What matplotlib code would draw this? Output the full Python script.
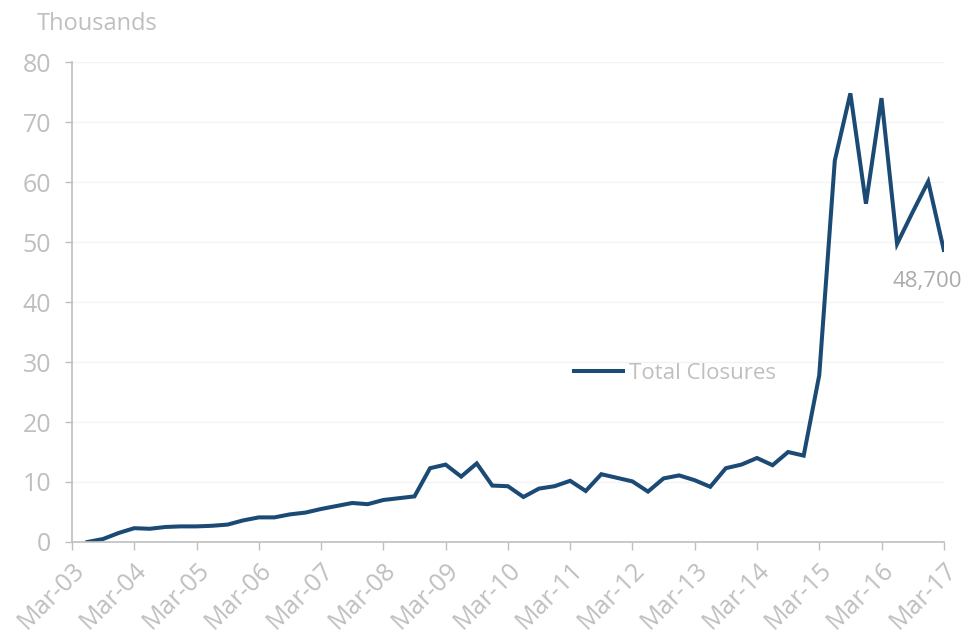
import numpy as np
import matplotlib
matplotlib.use("Agg")
from matplotlib import pyplot as plt

# quarterly closures (thousands), Jun-03 .. Mar-17
closures = [
    0.0, 0.5, 1.5, 2.3, 2.2, 2.5, 2.6, 2.6, 2.7, 2.9, 3.6, 4.1, 4.1, 4.6, 4.9, 5.5,
    6.0, 6.5, 6.3, 7.0, 7.3, 7.6, 12.3, 12.9, 10.9, 13.1, 9.4, 9.3, 7.5, 8.9,
    9.3, 10.2, 8.5, 11.3, 10.7, 10.1, 8.4, 10.6, 11.1, 10.3, 9.2, 12.3, 12.9, 14.0,
    12.8, 15.0, 14.4, 27.8, 63.6, 74.8, 56.4, 74.0, 49.7, 55.0, 60.1, 48.7,
]
year_labels = ['Mar-03', 'Mar-04', 'Mar-05', 'Mar-06', 'Mar-07', 'Mar-08', 'Mar-09', 'Mar-10',
               'Mar-11', 'Mar-12', 'Mar-13', 'Mar-14', 'Mar-15', 'Mar-16', 'Mar-17']
series_name = 'Total Closures'

line_color = '#1B4A75'
text_color = '#BFBFBF'
axis_color = '#BFBFBF'

plt.rcParams['font.family'] = ['Open Sans', 'DejaVu Sans']

fig = plt.figure(figsize=(9.66, 6.33), dpi=100)
ax = fig.add_axes([0.0745, 0.1438, 0.9025, 0.758])

x = np.arange(1, len(closures) + 1)
ax.plot(x, closures, color=line_color, linewidth=2.9, solid_joinstyle='miter', label=series_name)

ax.set_xlim(0, 4 * (len(year_labels) - 1))
ax.set_ylim(0, 80)
ax.set_yticks(range(0, 81, 10))
ax.set_xticks(np.arange(0, 4 * len(year_labels), 4))
ax.set_xticklabels(year_labels, rotation=45, ha='right', rotation_mode='anchor')

ax.grid(axis='y', color='#F3F3F3', linewidth=1)
ax.set_axisbelow(True)
for side in ['top', 'right']:
    ax.spines[side].set_visible(False)
for side in ['left', 'bottom']:
    ax.spines[side].set_color(axis_color)
    ax.spines[side].set_linewidth(1.2)

ax.tick_params(axis='y', colors=axis_color, labelcolor=text_color, labelsize=18,
               length=5, width=1, pad=10)
ax.tick_params(axis='x', colors=axis_color, labelcolor=text_color, labelsize=18,
               length=6, width=1, pad=5)

fig.text(0.038, 0.962, 'Thousands', color=text_color, fontsize=17, va='center')

last = closures[-1]
ax.annotate(f'{last * 1000:,.0f}', xy=(x[-1], last), xytext=(-12, -23),
            textcoords='offset points', color='#ABABAB', fontsize=16, ha='center', va='center')

ax.legend(loc='center left', bbox_to_anchor=(0.553, 0.352), frameon=False, fontsize=16,
          labelcolor=text_color, handlelength=2.2, handletextpad=0.25)

fig.savefig('out.png', dpi=100, facecolor='white')
